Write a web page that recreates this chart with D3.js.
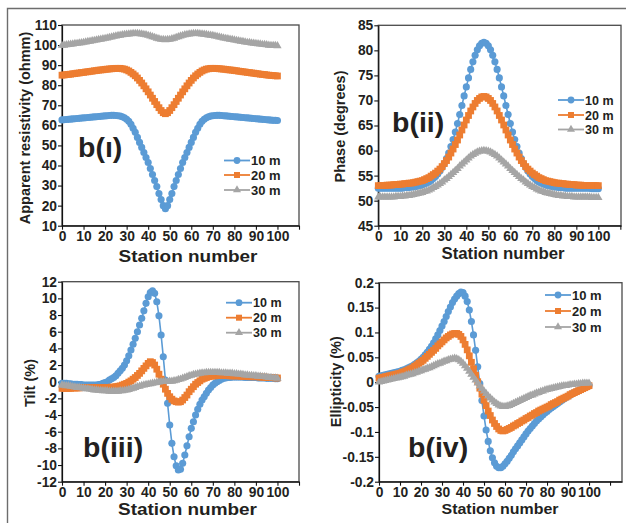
<!DOCTYPE html>
<html><head><meta charset="utf-8">
<script src="https://cdn.jsdelivr.net/npm/d3@7"></script>
<style>
body{margin:0;background:#fff;}
svg{display:block;}
text{font-family:"Liberation Sans",Arial,Helvetica,sans-serif;font-weight:bold;fill:#231f20;}
</style>
</head><body>
<svg id="chart" width="626" height="523"></svg>
<script>
// ---------------- DATA ----------------
const stations = [0,1,2,3,4,5,6,7,8,9,10,11,12,13,14,15,16,17,18,19,20,21,22,23,24,25,26,27,28,29,30,31,32,33,34,35,36,37,38,39,40,41,42,43,44,45,46,47,48,49,50,51,52,53,54,55,56,57,58,59,60,61,62,63,64,65,66,67,68,69,70,71,72,73,74,75,76,77,78,79,80,81,82,83,84,85,86,87,88,89,90,91,92,93,94,95,96,97,98,99,100];

const seriesNames = ["10 m", "20 m", "30 m"];

// b(i) apparent resistivity (ohmm)
const rho10 = [62.7,62.8,62.9,63,63.1,63.2,63.3,63.4,63.5,63.6,
63.7,63.8,63.9,64,64.1,64.2,64.3,64.4,64.5,64.6,
64.7,64.8,64.9,65,65,64.9,64.8,64.6,64.3,63.8,
63,62,60.5,58.5,56.5,54,51.5,49,46.5,44,
41.5,38.5,35.5,32.5,29.5,26,23,20,18.5,20,
23,26,29.5,32.5,35.5,38.5,41.5,44,46.5,49,
51.5,54,56.5,58.5,60.5,62,63,63.8,64.3,64.6,
64.8,64.9,65,65,64.9,64.8,64.7,64.6,64.5,64.4,
64.3,64.2,64.1,64,63.9,63.8,63.7,63.6,63.5,63.4,
63.3,63.2,63.1,63,62.9,62.8,62.7,62.6,62.5,62.5,
62.4];
const rho20 = [85.0,85.1,85.3,85.4,85.5,85.7,85.8,86.0,86.1,86.3,
86.4,86.6,86.7,86.9,87.0,87.2,87.3,87.5,87.6,87.7,
87.9,88.0,88.1,88.2,88.3,88.4,88.4,88.4,88.2,88.0,
87.6,87.1,86.4,85.6,84.7,83.6,82.4,81.1,79.7,78.2,
76.7,75.1,73.5,71.9,70.3,68.8,67.4,66.3,65.8,66.3,
67.4,68.8,70.3,71.9,73.5,75.1,76.7,78.2,79.7,81.1,
82.4,83.6,84.7,85.6,86.4,87.1,87.6,88.0,88.2,88.4,
88.4,88.4,88.3,88.2,88.1,88.0,87.9,87.7,87.6,87.5,
87.3,87.2,87.0,86.9,86.7,86.6,86.4,86.3,86.1,86.0,
85.8,85.7,85.5,85.4,85.3,85.1,85.0,84.9,84.8,84.7,
84.6];
const rho30 = [99.8,99.9,100.1,100.2,100.4,100.5,100.7,100.8,101.0,101.1,
101.3,101.5,101.7,101.9,102.1,102.3,102.5,102.7,102.9,103.1,
103.3,103.5,103.8,104.0,104.3,104.5,104.7,104.9,105.1,105.3,
105.4,105.5,105.6,105.7,105.7,105.7,105.6,105.5,105.3,105.1,
104.8,104.5,104.1,103.8,103.4,103.1,102.8,102.7,102.6,102.7,
102.8,103.1,103.4,103.8,104.1,104.5,104.8,105.1,105.3,105.5,
105.6,105.7,105.7,105.7,105.6,105.5,105.4,105.2,105.0,104.9,
104.7,104.5,104.3,104.0,103.8,103.5,103.3,103.1,102.9,102.7,
102.5,102.3,102.1,101.9,101.7,101.5,101.3,101.2,101.0,100.9,
100.7,100.6,100.5,100.3,100.2,100.1,99.9,99.8,99.7,99.7,
99.6];

// b(ii) phase (degrees)
const phase10 = [52.5,52.5,52.5,52.5,52.5,52.5,52.5,52.5,52.5,52.5,
52.5,52.5,52.6,52.6,52.6,52.7,52.7,52.8,52.9,53.0,
53.1,53.3,53.5,53.7,54.0,54.4,54.8,55.3,55.9,56.6,
57.4,58.4,59.5,60.8,62.2,63.7,65.4,67.2,69.0,70.9,
72.7,74.5,76.2,77.7,79.0,80.1,80.9,81.4,81.6,81.4,
80.9,80.1,79.0,77.7,76.2,74.5,72.7,70.9,69.0,67.2,
65.4,63.7,62.2,60.8,59.5,58.4,57.4,56.6,55.9,55.3,
54.8,54.4,54.0,53.7,53.5,53.3,53.1,53.0,52.9,52.8,
52.7,52.7,52.6,52.6,52.6,52.5,52.5,52.5,52.5,52.5,
52.5,52.5,52.5,52.5,52.5,52.5,52.5,52.4,52.4,52.4,
52.4];
const phase20 = [53.0,53.0,53.0,53.0,53.1,53.1,53.1,53.2,53.2,53.2,
53.3,53.3,53.4,53.4,53.5,53.5,53.6,53.7,53.8,53.9,
54.0,54.2,54.4,54.6,54.9,55.2,55.5,55.9,56.3,56.8,
57.4,58.0,58.7,59.5,60.3,61.2,62.1,63.1,64.1,65.1,
66.1,67.0,67.9,68.7,69.4,70.0,70.4,70.7,70.8,70.7,
70.4,70.0,69.4,68.7,67.9,67.0,66.1,65.1,64.1,63.1,
62.1,61.2,60.3,59.5,58.7,58.0,57.4,56.8,56.3,55.9,
55.5,55.2,54.9,54.6,54.4,54.2,54.0,53.9,53.8,53.7,
53.6,53.5,53.5,53.4,53.4,53.3,53.3,53.2,53.2,53.2,
53.1,53.1,53.1,53.0,53.0,53.0,53.0,53.0,53.0,53.0,
53.0];
const phase30 = [50.7,50.7,50.7,50.7,50.7,50.7,50.7,50.7,50.8,50.8,
50.8,50.9,50.9,51.0,51.0,51.1,51.2,51.3,51.4,51.5,
51.6,51.8,51.9,52.1,52.3,52.6,52.8,53.1,53.4,53.7,
54.1,54.4,54.8,55.2,55.6,56.0,56.4,56.9,57.3,57.7,
58.1,58.5,58.9,59.2,59.45,59.7,59.85,59.95,60.0,59.95,
59.85,59.7,59.45,59.2,58.9,58.5,58.1,57.7,57.3,56.9,
56.4,56.0,55.6,55.2,54.8,54.4,54.1,53.7,53.4,53.1,
52.8,52.6,52.3,52.1,51.9,51.8,51.6,51.5,51.4,51.3,
51.2,51.1,51.0,51.0,50.9,50.9,50.8,50.8,50.8,50.7,
50.7,50.7,50.7,50.7,50.7,50.7,50.7,50.6,50.6,50.6,
50.6];

// b(iii) tilt (%)
const tilt10 = [-0.2,-0.2,-0.2,-0.25,-0.25,-0.3,-0.3,-0.3,-0.35,-0.35,
-0.4,-0.4,-0.4,-0.4,-0.4,-0.4,-0.4,-0.35,-0.3,-0.2,
-0.1,0.0,0.2,0.35,0.5,0.7,1.0,1.3,1.6,2.0,
2.5,3.1,3.8,4.5,5.2,6.0,6.8,7.6,8.5,9.4,
10.2,10.7,10.9,10.6,9.6,7.9,5.6,3.0,0.2,-2.6,
-5.2,-7.4,-9.0,-10.1,-10.6,-10.5,-9.8,-8.8,-7.7,-6.6,
-5.6,-4.8,-4.0,-3.3,-2.7,-2.2,-1.8,-1.4,-1.0,-0.7,
-0.4,-0.2,0.0,0.15,0.3,0.4,0.45,0.5,0.5,0.55,
0.55,0.55,0.55,0.55,0.55,0.5,0.5,0.5,0.5,0.5,
0.5,0.45,0.45,0.45,0.45,0.4,0.4,0.4,0.4,0.35,
0.35];
const tilt20 = [-0.8,-0.8,-0.8,-0.8,-0.8,-0.75,-0.75,-0.75,-0.75,-0.7,
-0.7,-0.7,-0.7,-0.7,-0.7,-0.7,-0.7,-0.7,-0.7,-0.7,
-0.7,-0.7,-0.7,-0.65,-0.65,-0.6,-0.55,-0.5,-0.4,-0.3,
-0.2,-0.05,0.1,0.3,0.5,0.75,1.0,1.3,1.6,1.9,
2.2,2.4,2.3,2.0,1.5,0.9,0.3,-0.3,-0.9,-1.4,
-1.8,-2.1,-2.3,-2.4,-2.45,-2.4,-2.2,-1.9,-1.6,-1.2,
-0.9,-0.6,-0.3,-0.1,0.1,0.3,0.4,0.5,0.6,0.65,
0.7,0.7,0.75,0.75,0.75,0.75,0.75,0.75,0.7,0.7,
0.7,0.7,0.7,0.65,0.65,0.65,0.65,0.6,0.6,0.6,
0.6,0.6,0.55,0.55,0.55,0.5,0.5,0.5,0.5,0.45,
0.45];
const tilt30 = [-0.4,-0.45,-0.5,-0.5,-0.55,-0.6,-0.65,-0.7,-0.7,-0.75,
-0.8,-0.85,-0.85,-0.9,-0.95,-1.0,-1.0,-1.05,-1.05,-1.1,
-1.1,-1.1,-1.15,-1.15,-1.15,-1.15,-1.15,-1.1,-1.1,-1.05,
-1.0,-0.95,-0.85,-0.8,-0.7,-0.6,-0.55,-0.45,-0.4,-0.35,
-0.3,-0.25,-0.2,-0.15,-0.1,-0.05,0.0,0.0,0.0,0.0,
0.05,0.05,0.1,0.15,0.25,0.3,0.4,0.5,0.6,0.7,
0.75,0.85,0.9,0.95,1.0,1.05,1.05,1.1,1.1,1.1,
1.1,1.1,1.1,1.1,1.05,1.05,1.05,1.0,1.0,1.0,
0.95,0.95,0.9,0.9,0.85,0.8,0.8,0.75,0.75,0.7,
0.7,0.65,0.65,0.6,0.6,0.55,0.5,0.5,0.45,0.45,
0.4];

// b(iv) ellipticity (%)
const ell10 = [0.012,0.013,0.014,0.015,0.016,0.017,0.018,0.019,0.020,0.021,
0.022,0.024,0.025,0.027,0.029,0.031,0.033,0.036,0.039,0.042,
0.046,0.050,0.055,0.060,0.066,0.072,0.079,0.087,0.095,0.104,
0.113,0.122,0.132,0.142,0.151,0.160,0.167,0.173,0.178,0.181,
0.180,0.173,0.162,0.145,0.122,0.095,0.064,0.031,-0.003,-0.037,
-0.068,-0.096,-0.119,-0.138,-0.152,-0.162,-0.169,-0.172,-0.172,-0.169,
-0.164,-0.159,-0.153,-0.147,-0.140,-0.134,-0.128,-0.122,-0.116,-0.110,
-0.104,-0.098,-0.093,-0.088,-0.083,-0.078,-0.074,-0.070,-0.066,-0.062,
-0.059,-0.055,-0.052,-0.049,-0.046,-0.043,-0.040,-0.037,-0.034,-0.031,
-0.028,-0.026,-0.023,-0.021,-0.019,-0.017,-0.015,-0.013,-0.011,-0.009,
-0.007];
const ell20 = [0.008,0.009,0.010,0.011,0.012,0.013,0.014,0.015,0.016,0.017,
0.018,0.020,0.021,0.023,0.025,0.027,0.029,0.032,0.035,0.038,
0.041,0.044,0.048,0.052,0.056,0.060,0.064,0.068,0.073,0.077,
0.081,0.085,0.089,0.092,0.095,0.097,0.098,0.098,0.096,0.092,
0.085,0.076,0.065,0.053,0.040,0.027,0.014,0.001,-0.012,-0.024,
-0.036,-0.047,-0.058,-0.067,-0.076,-0.083,-0.089,-0.094,-0.097,-0.098,
-0.097,-0.095,-0.093,-0.091,-0.088,-0.086,-0.083,-0.081,-0.078,-0.076,
-0.073,-0.071,-0.068,-0.066,-0.063,-0.061,-0.058,-0.056,-0.054,-0.052,
-0.050,-0.048,-0.045,-0.043,-0.041,-0.039,-0.036,-0.034,-0.032,-0.030,
-0.028,-0.025,-0.023,-0.021,-0.019,-0.017,-0.015,-0.013,-0.011,-0.009,
-0.007];
const ell30 = [0.000,0.001,0.002,0.003,0.004,0.005,0.006,0.007,0.008,0.009,
0.010,0.011,0.012,0.014,0.015,0.016,0.017,0.019,0.020,0.022,
0.023,0.025,0.026,0.028,0.029,0.031,0.033,0.035,0.037,0.038,
0.040,0.042,0.043,0.045,0.046,0.047,0.048,0.047,0.045,0.042,
0.038,0.033,0.028,0.022,0.016,0.010,0.004,-0.002,-0.008,-0.013,
-0.018,-0.023,-0.028,-0.032,-0.036,-0.040,-0.043,-0.046,-0.048,-0.049,
-0.049,-0.048,-0.047,-0.045,-0.043,-0.041,-0.039,-0.037,-0.035,-0.033,
-0.031,-0.029,-0.027,-0.026,-0.024,-0.022,-0.021,-0.019,-0.018,-0.016,
-0.015,-0.014,-0.013,-0.012,-0.011,-0.010,-0.009,-0.008,-0.007,-0.007,
-0.006,-0.005,-0.005,-0.004,-0.004,-0.003,-0.003,-0.002,-0.002,-0.002,
-0.002];

// tick labels
const xTicks = [0,10,20,30,40,50,60,70,80,90,100,110];
const xLabelled = [0,10,20,30,40,50,60,70,80,90,100];
const yTicksRho = [10,20,30,40,50,60,70,80,90,100,110];
const yTicksPhase = [45,50,55,60,65,70,75,80,85];
const yTicksTilt = [-12,-10,-8,-6,-4,-2,0,2,4,6,8,10,12];
const yTicksEll = [-0.2,-0.15,-0.1,-0.05,0,0.05,0.1,0.15,0.2];

const panelLabels = ["b(ı)", "b(ii)", "b(iii)", "b(iv)"];
const yTitles = ["Apparent resistivity (ohmm)", "Phase (degrees)", "Tilt (%)", "Ellipticity (%)"];
const xTitle = "Station number";

// ---------------- STYLE / LAYOUT ----------------
const colors = ["#5B9BD5", "#ED7D31", "#A5A5A5"];
const symbols = [d3.symbolCircle, d3.symbolSquare, d3.symbolTriangle];
const symSizes = [40, 46, 30];
const legSizes = [36, 36, 28];

const panels = [
  {series:[rho10,rho20,rho30], yDomain:[10,110], yTicks:yTicksRho,
   x0:62, x1:299, y0:25, y1:225.7, xMax:110, tpad:2,
   label:{x:78, y:156.5}, yt:{x:25, y:128}, xt:{x:188, y:261.5, size:17, len:139},
   leg:{x:224, ys:[160.5,175,190], size:13}},
  {series:[phase10,phase20,phase30], yDomain:[45,85], yTicks:yTicksPhase,
   x0:378.3, x1:621, y0:25.3, y1:225.7, xMax:110.3, tpad:2,
   label:{x:392, y:131.5}, yt:{x:340, y:126.5}, xt:{x:503, y:258.5, size:16, len:123},
   leg:{x:558, ys:[100,115,129.5], size:12.5}},
  {series:[tilt10,tilt20,tilt30], yDomain:[-12,12], yTicks:yTicksTilt,
   x0:62, x1:299, y0:281.7, y1:481.7, xMax:110, tpad:1.5,
   label:{x:83, y:456.5}, yt:{x:29.5, y:383}, xt:{x:187.5, y:514.5, size:16, len:139},
   leg:{x:226, ys:[302.7,317.7,332.7], size:12.5}},
  {series:[ell10,ell20,ell30], yDomain:[-0.2,0.2], yTicks:yTicksEll,
   x0:379, x1:622, y0:282.7, y1:481.7, xMax:115.7, tpad:1.5,
   label:{x:408, y:456.5}, yt:{x:335.5, y:381.7}, xt:{x:500, y:514, size:15, len:117},
   leg:{x:545, ys:[295,311,327], size:13}}
];

const svg = d3.select("#chart");

// outer figure frame (only left & top edges visible)
svg.append("path")
  .attr("d", "M7.5,523 V8.5 H626")
  .attr("fill", "none").attr("stroke", "#6d6d6d").attr("stroke-width", 1.4);

panels.forEach((p, pi) => {
  const g = svg.append("g");
  const x = d3.scaleLinear().domain([0, p.xMax]).range([p.x0, p.x1]);
  const y = d3.scaleLinear().domain(p.yDomain).range([p.y1, p.y0]);

  // plot-area frame
  g.append("rect")
    .attr("x", p.x0).attr("y", p.y0)
    .attr("width", p.x1 - p.x0).attr("height", p.y1 - p.y0)
    .attr("fill", "none").attr("stroke", "#4a4a4a").attr("stroke-width", 1.3);

  // axes
  const xAxis = d3.axisBottom(x).tickValues(xTicks)
    .tickFormat(d => xLabelled.includes(d) ? String(d) : "")
    .tickSize(4).tickSizeOuter(0).tickPadding(p.tpad);
  const yAxis = d3.axisLeft(y).tickValues(p.yTicks)
    .tickFormat(d => String(d)).tickSize(4).tickSizeOuter(0).tickPadding(1);

  const gx = g.append("g").attr("transform", `translate(0,${p.y1})`).call(xAxis);
  const gy = g.append("g").attr("transform", `translate(${p.x0},0)`).call(yAxis);
  [gx, gy].forEach(a => {
    a.select(".domain").attr("stroke", "#111").attr("stroke-width", 1.2);
    a.selectAll(".tick line").attr("stroke", "#111").attr("stroke-width", 1.1);
    a.selectAll(".tick text").attr("font-size", 13.8).attr("font-weight", "bold")
      .attr("fill", "#231f20").attr("font-family", "Liberation Sans, Arial, sans-serif");
  });

  // series
  const line = d3.line().x((d, i) => x(stations[i])).y(d => y(d));
  p.series.forEach((vals, si) => {
    g.append("path").datum(vals)
      .attr("d", line).attr("fill", "none")
      .attr("stroke", colors[si]).attr("stroke-width", 1.6);
    g.append("g").selectAll("path").data(vals).join("path")
      .attr("d", d3.symbol().type(symbols[si]).size(symSizes[si]))
      .attr("transform", (d, i) => `translate(${x(stations[i])},${y(d)})`)
      .attr("fill", colors[si]);
  });

  // legend
  seriesNames.forEach((name, si) => {
    const ly = p.leg.ys[si];
    g.append("line").attr("x1", p.leg.x).attr("x2", p.leg.x + 26)
      .attr("y1", ly).attr("y2", ly)
      .attr("stroke", colors[si]).attr("stroke-width", 1.8);
    g.append("path")
      .attr("d", d3.symbol().type(symbols[si]).size(legSizes[si]))
      .attr("transform", `translate(${p.leg.x + 13},${ly})`)
      .attr("fill", colors[si]);
    g.append("text").attr("x", p.leg.x + 27).attr("y", ly)
      .attr("dy", "0.36em").attr("font-size", p.leg.size).text(name);
  });

  // panel label
  g.append("text").attr("x", p.label.x).attr("y", p.label.y)
    .attr("font-size", 28.5).text(panelLabels[pi]);

  // axis titles
  g.append("text")
    .attr("transform", `translate(${p.yt.x},${p.yt.y}) rotate(-90)`)
    .attr("text-anchor", "middle").attr("dy", "0.35em")
    .attr("font-size", 14.5).text(yTitles[pi]);
  g.append("text").attr("x", p.xt.x).attr("y", p.xt.y)
    .attr("text-anchor", "middle").attr("font-size", p.xt.size)
    .attr("textLength", p.xt.len).attr("lengthAdjust", "spacingAndGlyphs")
    .text(xTitle);
});
</script>
</body></html>
